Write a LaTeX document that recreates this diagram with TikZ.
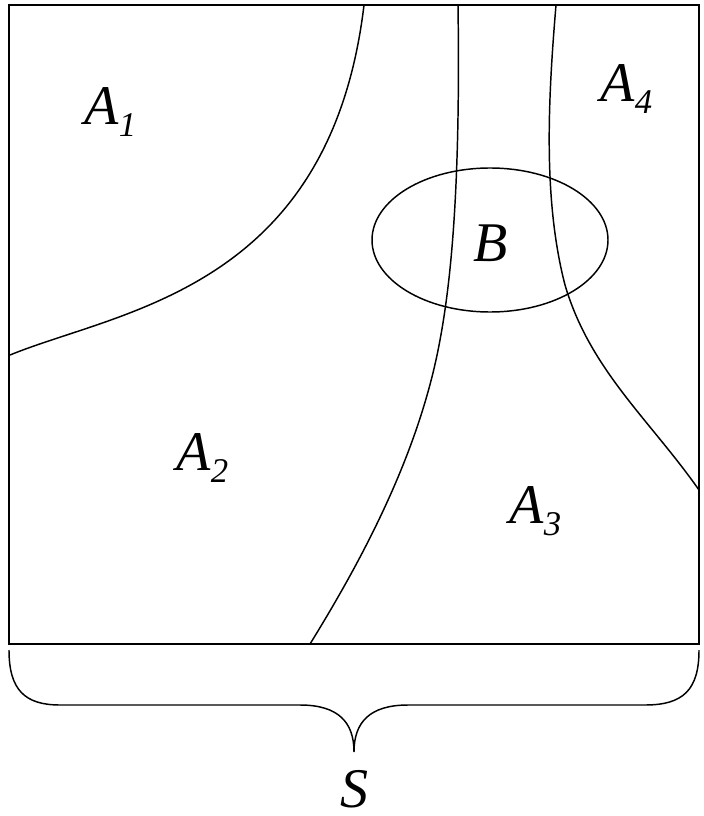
\documentclass[tikz,border=0pt]{standalone}
\usepackage{fontspec}
\setmainfont{Liberation Serif}
\usetikzlibrary{positioning}
% region name with a lowered index
\newcommand{\regname}[2]{#1\raisebox{-9pt}{\fontsize{26}{26}\selectfont #2}}

\begin{document}
\begin{tikzpicture}[x=0.75pt,y=-0.75pt,line width=1.1pt,
  border/.style={line width=1.6pt},
  lbl/.style={font=\fontsize{42}{48}\selectfont\itshape,inner sep=0pt,anchor=base west}]
\useasboundingbox (0,0) rectangle (703,816);
% the sample space
\draw[border] (9,5) rectangle (699,644);
% partition lines
\draw (364,5) .. controls (330,290) and (120,310) .. (10,355);
\draw (458,5) .. controls (460,150) and (455,260) .. (440,340)
  .. controls (420,450) and (365,555) .. (310,644);
\draw (556,5) .. controls (548,100) and (543,200) .. (565,285)
  .. controls (590,370) and (650,420) .. (699,490);
% event B
\draw (490,240) ellipse [x radius=88.5pt, y radius=54pt];
% labels
\node[lbl] (a1) at (84,125) {\regname{A}{1}};
\node[lbl] (a2) at (176,470) {\regname{A}{2}};
\node[lbl] (a3) at (509,523) {\regname{A}{3}};
\node[lbl] (a4) at (600,102) {\regname{A}{4}};
\node[lbl] (b) at (473,262) {B};
% brace under the square
\draw (9,650) .. controls (9,690) and (25,705) .. (60,705) -- (300,705)
  .. controls (338,705) and (354,722) .. (354,752)
  .. controls (354,722) and (370,705) .. (408,705) -- (645,705)
  .. controls (683,705) and (699,690) .. (699,650);
\node[lbl] (s) at (340,807) {S};
\end{tikzpicture}
\end{document}
